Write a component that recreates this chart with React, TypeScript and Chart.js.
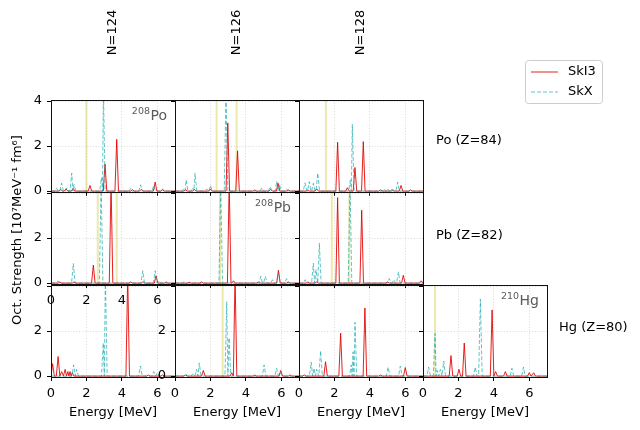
import { useEffect, useRef } from 'react';
import { Chart, registerables } from 'chart.js';

Chart.register(...registerables);

// ---------- data ----------
const energyTicks = [0, 2, 4, 6];
const strengthTicks = [0, 2, 4];
const columnLabels = ['N=124', 'N=126', 'N=128'];
const rowLabels = ['Po (Z=84)', 'Pb (Z=82)', 'Hg (Z=80)'];
const seriesNames = ['SkI3', 'SkX'];

// 208Po (N=124, Z=84)
const po124SkI3E = [0.55, 0.85, 1.25, 2.2, 3.05, 3.71, 4.6, 5.1, 5.88, 6.3];
const po124SkI3S = [0.08, 0.1, 0.12, 0.25, 1.2, 2.3, 0.06, 0.08, 0.4, 0.06];
const po124SkXE = [0.32, 0.6, 0.9, 1.17, 1.3, 2.85, 2.96, 4.5, 5.06, 5.8, 6.3];
const po124SkXS = [0.12, 0.35, 0.15, 0.8, 0.3, 0.6, 4.5, 0.12, 0.28, 0.25, 0.1];
const po124Thr = [2.0];

// 210Po (N=126)
const po126SkI3E = [0.6, 1.1, 2.0, 2.98, 3.53, 4.5, 5.4, 5.82, 6.4];
const po126SkI3S = [0.06, 0.08, 0.1, 3.03, 1.79, 0.05, 0.08, 0.35, 0.05];
const po126SkXE = [0.5, 0.63, 1.0, 1.13, 1.8, 2.01, 2.88, 4.9, 5.37, 5.75, 5.9, 6.3];
const po126SkXS = [0.1, 0.5, 0.15, 0.8, 0.1, 0.25, 4.5, 0.15, 0.2, 0.45, 0.3, 0.1];
const po126Thr = [2.35, 3.48];

// 212Po (N=128)
const po128SkI3E = [0.5, 1.0, 2.18, 2.73, 3.16, 3.63, 4.6, 5.3, 5.76, 6.3];
const po128SkI3S = [0.05, 0.1, 2.17, 0.15, 1.05, 2.2, 0.05, 0.06, 0.25, 0.05];
const po128SkXE = [0.34, 0.58, 0.81, 1.06, 2.9, 3.01, 4.8, 5.0, 5.2, 5.57];
const po128SkXS = [0.37, 0.42, 0.35, 0.8, 0.5, 2.97, 0.1, 0.12, 0.1, 0.4];
const po128Thr = [1.52];

// 206Pb (N=124, Z=82)
const pb124SkI3E = [0.5, 1.3, 2.39, 3.39, 4.5, 5.2, 5.93, 6.5];
const pb124SkI3S = [0.05, 0.05, 0.8, 4.5, 0.05, 0.06, 0.32, 0.05];
const pb124SkXE = [0.4, 1.26, 2.83, 5.18, 5.88, 6.1];
const pb124SkXS = [0.1, 0.87, 4.5, 0.55, 0.55, 0.1];
const pb124Thr = [2.64, 3.71];

// 208Pb (N=126)
const pb126SkI3E = [0.8, 1.5, 3.06, 3.3, 4.7, 5.84, 6.4];
const pb126SkI3S = [0.04, 0.05, 4.5, 0.1, 0.05, 0.57, 0.05];
const pb126SkXE = [0.5, 1.2, 2.58, 4.84, 5.1, 5.5, 5.84, 6.3];
const pb126SkXS = [0.05, 0.05, 4.5, 0.3, 0.3, 0.15, 0.45, 0.2];
const pb126Thr = [2.54];

// 210Pb (N=128)
const pb128SkI3E = [0.5, 1.0, 2.18, 3.54, 5.0, 5.89, 6.9];
const pb128SkI3S = [0.05, 0.05, 3.8, 3.24, 0.05, 0.35, 0.1];
const pb128SkXE = [0.34, 0.81, 0.96, 1.15, 2.88, 5.1, 5.35, 5.61];
const pb128SkXS = [0.15, 0.88, 0.6, 1.78, 4.5, 0.2, 0.15, 0.5];
const pb128Thr = [1.85, 2.84];

// 204Hg (N=124, Z=80)
const hg124SkI3E = [0.09, 0.4, 0.6, 0.8, 0.95, 1.07, 1.2, 4.33, 5.5, 6.3];
const hg124SkI3S = [0.55, 0.87, 0.2, 0.3, 0.2, 0.2, 0.15, 4.5, 0.05, 0.05];
const hg124SkXE = [1.28, 1.45, 2.95, 3.07, 5.05, 5.8, 6.0];
const hg124SkXS = [0.5, 0.3, 1.47, 4.5, 0.45, 0.2, 0.15];
const hg124Thr: number[] = [];

// 206Hg (N=126)
const hg126SkI3E = [0.6, 1.6, 3.2, 3.39, 4.5, 5.97, 6.5];
const hg126SkI3S = [0.05, 0.25, 0.15, 4.5, 0.05, 0.25, 0.05];
const hg126SkXE = [0.6, 1.0, 1.22, 1.37, 2.92, 3.05, 5.03, 5.74, 5.95];
const hg126SkXS = [0.1, 0.1, 0.3, 0.58, 3.3, 1.7, 0.5, 0.35, 0.15];
const hg126Thr = [2.69];

// 208Hg (N=128)
const hg128SkI3E = [0.3, 1.5, 2.35, 3.72, 4.6, 6.0];
const hg128SkI3S = [0.05, 0.64, 1.91, 3.03, 0.05, 0.38];
const hg128SkXE = [0.69, 0.85, 1.0, 1.22, 2.95, 3.05, 3.16, 5.03, 5.72];
const hg128SkXS = [0.63, 0.35, 0.3, 1.12, 0.5, 1.08, 2.39, 0.4, 0.45];
const hg128Thr: number[] = [];

// 210Hg (N=130)
const hg130SkI3E = [1.58, 2.03, 2.33, 3.9, 4.1, 4.65, 6.0, 6.25];
const hg130SkI3S = [0.91, 0.3, 1.47, 2.94, 0.2, 0.2, 0.15, 0.15];
const hg130SkXE = [0.32, 0.68, 0.8, 0.98, 1.17, 2.95, 3.24, 5.02, 5.67];
const hg130SkXS = [0.4, 1.89, 0.25, 0.3, 0.67, 0.4, 3.42, 0.35, 0.4];
const hg130Thr = [0.68];

// ---------- layout / style ----------
const W = 640;
const H = 430;
const COL_LEFT = [51, 175, 299, 423];
const COL_W = 124;
const ROW_TOP = [100, 192, 285];
const ROW_H = 92;
const YW = 40;
const XH = 47;
const RED = 'rgba(228,0,0,0.88)';
const TEAL = 'rgba(0,160,165,0.62)';
const YELLOW = 'rgba(191,191,0,0.32)';
const GRID = 'rgba(170,170,170,0.55)';
const FONT = "'DejaVu Sans', 'Noto Sans', sans-serif";
const PEAK_HALF = 0.1;

type Panel = {
  key: string; col: number; row: number;
  i3E: number[]; i3S: number[]; xE: number[]; xS: number[]; thr: number[];
  xLabels: boolean; xTitle: boolean; yLabels: number[];
  tag?: { mass: string; el: string };
};

const panels: Panel[] = [
  { key: 'po124', col: 0, row: 0, i3E: po124SkI3E, i3S: po124SkI3S, xE: po124SkXE, xS: po124SkXS, thr: po124Thr, xLabels: false, xTitle: false, yLabels: [0, 2, 4], tag: { mass: '208', el: 'Po' } },
  { key: 'po126', col: 1, row: 0, i3E: po126SkI3E, i3S: po126SkI3S, xE: po126SkXE, xS: po126SkXS, thr: po126Thr, xLabels: false, xTitle: false, yLabels: [] },
  { key: 'po128', col: 2, row: 0, i3E: po128SkI3E, i3S: po128SkI3S, xE: po128SkXE, xS: po128SkXS, thr: po128Thr, xLabels: false, xTitle: false, yLabels: [] },
  { key: 'pb124', col: 0, row: 1, i3E: pb124SkI3E, i3S: pb124SkI3S, xE: pb124SkXE, xS: pb124SkXS, thr: pb124Thr, xLabels: true, xTitle: false, yLabels: [0, 2] },
  { key: 'pb126', col: 1, row: 1, i3E: pb126SkI3E, i3S: pb126SkI3S, xE: pb126SkXE, xS: pb126SkXS, thr: pb126Thr, xLabels: false, xTitle: false, yLabels: [], tag: { mass: '208', el: 'Pb' } },
  { key: 'pb128', col: 2, row: 1, i3E: pb128SkI3E, i3S: pb128SkI3S, xE: pb128SkXE, xS: pb128SkXS, thr: pb128Thr, xLabels: false, xTitle: false, yLabels: [] },
  { key: 'hg124', col: 0, row: 2, i3E: hg124SkI3E, i3S: hg124SkI3S, xE: hg124SkXE, xS: hg124SkXS, thr: hg124Thr, xLabels: true, xTitle: true, yLabels: [0, 2] },
  { key: 'hg126', col: 1, row: 2, i3E: hg126SkI3E, i3S: hg126SkI3S, xE: hg126SkXE, xS: hg126SkXS, thr: hg126Thr, xLabels: true, xTitle: true, yLabels: [0, 2] },
  { key: 'hg128', col: 2, row: 2, i3E: hg128SkI3E, i3S: hg128SkI3S, xE: hg128SkXE, xS: hg128SkXS, thr: hg128Thr, xLabels: true, xTitle: true, yLabels: [] },
  { key: 'hg130', col: 3, row: 2, i3E: hg130SkI3E, i3S: hg130SkI3S, xE: hg130SkXE, xS: hg130SkXS, thr: hg130Thr, xLabels: true, xTitle: true, yLabels: [], tag: { mass: '210', el: 'Hg' } },
];

// build a line of narrow spikes from a list of peaks
function spectrum(E: number[], S: number[]) {
  const idx = E.map((_, i) => i).sort((a, b) => E[a] - E[b]);
  const pts: { x: number; y: number }[] = [{ x: 0, y: 0 }];
  let lastX = 0;
  idx.forEach((i, k) => {
    const e = E[i];
    const prevE = k > 0 ? E[idx[k - 1]] : -Infinity;
    const nextE = k < idx.length - 1 ? E[idx[k + 1]] : Infinity;
    const l = Math.max(e - PEAK_HALF, (e + prevE) / 2, 0);
    const r = Math.min(e + PEAK_HALF, (e + nextE) / 2);
    if (l > lastX) pts.push({ x: l, y: 0 });
    pts.push({ x: e, y: S[i] });
    pts.push({ x: r, y: 0 });
    lastX = r;
  });
  pts.push({ x: 7, y: 0 });
  return pts;
}

const framePlugin = {
  id: 'frame',
  afterDraw(chart: any, _args: any, opts: any) {
    const { ctx, chartArea } = chart;
    const l = Math.round(chartArea.left) + 0.5;
    const t = Math.round(chartArea.top) + 0.5;
    const r = Math.round(chartArea.right) + 0.5;
    const b = Math.round(chartArea.bottom) + 0.5;
    ctx.save();
    ctx.strokeStyle = '#111';
    ctx.lineWidth = 1;
    ctx.strokeRect(l, t, r - l, b - t);
    const tag = opts && opts.tag;
    if (tag) {
      ctx.fillStyle = '#5a5a5a';
      ctx.textAlign = 'right';
      ctx.textBaseline = 'alphabetic';
      ctx.font = `14px ${FONT}`;
      const R = chartArea.right - 8;
      const w = ctx.measureText(tag.el).width;
      ctx.fillText(tag.el, R, chartArea.top + 19.5);
      ctx.font = `9.5px ${FONT}`;
      ctx.fillText(tag.mass, R - w - 0.5, chartArea.top + 14);
    }
    ctx.restore();
  },
};

const figurePlugin = {
  id: 'figureText',
  afterDraw(chart: any, _args: any, opts: any) {
    if (!opts || !opts.enabled) return;
    const ctx = chart.ctx as CanvasRenderingContext2D;
    ctx.save();
    ctx.fillStyle = '#000';
    ctx.font = `13px ${FONT}`;
    // column titles (rotated)
    columnLabels.forEach((t, i) => {
      const cx = COL_LEFT[i] + COL_W / 2;
      ctx.save();
      ctx.translate(cx, 32.5);
      ctx.rotate(-Math.PI / 2);
      ctx.textAlign = 'center';
      ctx.textBaseline = 'middle';
      ctx.fillText(t, 0, 0);
      ctx.restore();
    });
    // row titles
    ctx.textAlign = 'left';
    ctx.textBaseline = 'middle';
    ctx.fillText(rowLabels[0], 436, 141);
    ctx.fillText(rowLabels[1], 436, 236);
    ctx.fillText(rowLabels[2], 559, 328);
    // y title
    ctx.save();
    ctx.translate(18, 230);
    ctx.rotate(-Math.PI / 2);
    ctx.textAlign = 'center';
    ctx.textBaseline = 'middle';
    ctx.fillText('Oct. Strength [10\u2077MeV\u207B\u00B9 fm\u2076]', 0, 0);
    ctx.restore();
    // legend
    const lx = 525.5, ly = 60.5, lw = 77, lh = 43, rr = 3;
    ctx.beginPath();
    ctx.moveTo(lx + rr, ly);
    ctx.lineTo(lx + lw - rr, ly);
    ctx.quadraticCurveTo(lx + lw, ly, lx + lw, ly + rr);
    ctx.lineTo(lx + lw, ly + lh - rr);
    ctx.quadraticCurveTo(lx + lw, ly + lh, lx + lw - rr, ly + lh);
    ctx.lineTo(lx + rr, ly + lh);
    ctx.quadraticCurveTo(lx, ly + lh, lx, ly + lh - rr);
    ctx.lineTo(lx, ly + rr);
    ctx.quadraticCurveTo(lx, ly, lx + rr, ly);
    ctx.closePath();
    ctx.fillStyle = 'rgba(255,255,255,0.8)';
    ctx.fill();
    ctx.strokeStyle = '#cccccc';
    ctx.lineWidth = 1;
    ctx.stroke();
    ctx.lineWidth = 1;
    ctx.strokeStyle = RED;
    ctx.beginPath();
    ctx.moveTo(531, 72);
    ctx.lineTo(558, 72);
    ctx.stroke();
    ctx.strokeStyle = TEAL;
    ctx.setLineDash([4, 2]);
    ctx.beginPath();
    ctx.moveTo(531, 92);
    ctx.lineTo(558, 92);
    ctx.stroke();
    ctx.setLineDash([]);
    ctx.fillStyle = '#000';
    ctx.textAlign = 'left';
    ctx.textBaseline = 'middle';
    ctx.fillText(seriesNames[0], 568, 72);
    ctx.fillText(seriesNames[1], 568, 92);
    ctx.restore();
  },
};

function makeConfig(p: Panel, first: boolean): any {
  const left = COL_LEFT[p.col];
  const top = ROW_TOP[p.row];
  const right = left + COL_W;
  const bottom = top + ROW_H;
  const datasets: any[] = [
    {
      label: seriesNames[1], data: spectrum(p.xE, p.xS), borderColor: TEAL, borderWidth: 1,
      borderDash: [4, 2], pointRadius: 0, fill: false, tension: 0, order: 0,
    },
    {
      label: seriesNames[0], data: spectrum(p.i3E, p.i3S), borderColor: RED, borderWidth: 1,
      pointRadius: 0, fill: false, tension: 0, order: 1,
    },
    ...p.thr.map((e) => ({
      label: 'threshold', data: [{ x: e, y: -1 }, { x: e, y: 5 }], borderColor: YELLOW,
      borderWidth: 2, pointRadius: 0, fill: false, order: 2,
    })),
  ];
  return {
    type: 'line',
    data: { datasets },
    plugins: [framePlugin, figurePlugin],
    options: {
      responsive: false,
      animation: false,
      events: [],
      layout: { padding: { left: left - YW, top, right: W - right, bottom: H - bottom - XH } },
      plugins: {
        legend: { display: false },
        tooltip: { enabled: false },
        frame: { tag: p.tag },
        figureText: { enabled: first },
      },
      scales: {
        x: {
          type: 'linear', min: 0, max: 7,
          afterBuildTicks: (s: any) => { s.ticks = energyTicks.map((v) => ({ value: v })); },
          afterFit: (s: any) => { s.height = XH; },
          ticks: {
            color: '#000', font: { size: 13, family: FONT }, padding: 5, maxRotation: 0, autoSkip: false,
            callback: (v: any) => (p.xLabels ? String(v) : ''),
          },
          grid: { color: GRID, lineWidth: 0.8, tickColor: '#000', tickLength: 4, tickWidth: 1, tickBorderDash: [] },
          border: { display: false, dash: [1, 1.8] },
          title: { display: p.xTitle, text: 'Energy [MeV]', color: '#000', font: { size: 13, family: FONT }, padding: { top: 4, bottom: 4 } },
        },
        y: {
          type: 'linear', min: -0.04, max: 4.05,
          afterBuildTicks: (s: any) => { s.ticks = strengthTicks.map((v) => ({ value: v })); },
          afterFit: (s: any) => { s.width = YW; },
          ticks: {
            color: '#000', font: { size: 13, family: FONT }, padding: 5, autoSkip: false,
            callback: (v: any) => (p.yLabels.includes(v) ? String(v) : ''),
          },
          grid: { color: GRID, lineWidth: 0.8, tickColor: '#000', tickLength: 4, tickWidth: 1, tickBorderDash: [] },
          border: { display: false, dash: [1, 1.8] },
        },
      },
    },
  };
}

export default function App() {
  const refs = useRef<(HTMLCanvasElement | null)[]>([]);
  useEffect(() => {
    document.body.style.margin = '0';
    Chart.defaults.font.family = FONT;
    const charts = panels.map((p, i) => new Chart(refs.current[i] as HTMLCanvasElement, makeConfig(p, i === 0)));
    return () => charts.forEach((c) => c.destroy());
  }, []);
  return (
    <div style={{ position: 'relative', width: W, height: H, background: '#fff', overflow: 'hidden' }}>
      {panels.map((p, i) => (
        <canvas
          key={p.key}
          ref={(el) => { refs.current[i] = el; }}
          width={W}
          height={H}
          style={{ position: 'absolute', left: 0, top: 0, width: W, height: H }}
        />
      ))}
    </div>
  );
}
